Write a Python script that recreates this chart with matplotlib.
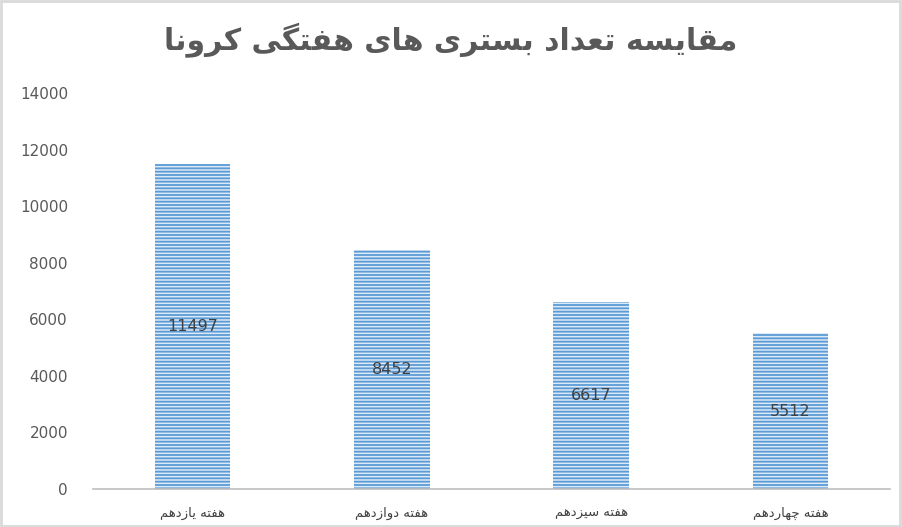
import matplotlib.pyplot as plt
from matplotlib.patches import Rectangle

# bar data
weeks = ["هفته یازدهم", "هفته دوازدهم", "هفته سیزدهم", "هفته چهاردهم"]
admissions = [11497, 8452, 6617, 5512]
title = "مقایسه تعداد بستری های هفتگی کرونا"
yticks = [0, 2000, 4000, 6000, 8000, 10000, 12000, 14000]

# matplotlib does no arabic shaping, so pick presentation forms by hand
# letter: (isolated, final, initial, medial); None => joins to the right only
FORMS = {
    "ا": (0xFE8D, 0xFE8E, None, None),
    "د": (0xFEA9, 0xFEAA, None, None),
    "ر": (0xFEAD, 0xFEAE, None, None),
    "ز": (0xFEAF, 0xFEB0, None, None),
    "و": (0xFEED, 0xFEEE, None, None),
    "ب": (0xFE8F, 0xFE90, 0xFE91, 0xFE92),
    "ت": (0xFE95, 0xFE96, 0xFE97, 0xFE98),
    "س": (0xFEB1, 0xFEB2, 0xFEB3, 0xFEB4),
    "ع": (0xFEC9, 0xFECA, 0xFECB, 0xFECC),
    "ف": (0xFED1, 0xFED2, 0xFED3, 0xFED4),
    "ق": (0xFED5, 0xFED6, 0xFED7, 0xFED8),
    "م": (0xFEE1, 0xFEE2, 0xFEE3, 0xFEE4),
    "ن": (0xFEE5, 0xFEE6, 0xFEE7, 0xFEE8),
    "ه": (0xFEE9, 0xFEEA, 0xFEEB, 0xFEEC),
    "چ": (0xFB7A, 0xFB7B, 0xFB7C, 0xFB7D),
    "ک": (0xFB8E, 0xFB8F, 0xFB90, 0xFB91),
    "گ": (0xFB92, 0xFB93, 0xFB94, 0xFB95),
    "ی": (0xFBFC, 0xFBFD, 0xFBFE, 0xFBFF),
}


def shape(text):
    out = []
    for i, ch in enumerate(text):
        if ch not in FORMS:
            out.append(ch)
            continue
        prev = text[i - 1] if i > 0 else ""
        nxt = text[i + 1] if i + 1 < len(text) else ""
        joins_prev = prev in FORMS and FORMS[prev][2] is not None
        can_next = FORMS[ch][2] is not None and nxt in FORMS
        iso, fin, ini, med = FORMS[ch]
        if joins_prev and can_next:
            code = med
        elif joins_prev:
            code = fin
        elif can_next:
            code = ini
        else:
            code = iso
        out.append(chr(code))
    return "".join(out)[::-1]


plt.rcParams["font.family"] = ["DejaVu Sans"]
plt.rcParams["hatch.linewidth"] = 1.3

fig = plt.figure(figsize=(9.02, 5.27), dpi=100)
ax = fig.add_axes([0.1031, 0.0721, 0.8836, 0.7514])

x = range(len(weeks))
# hatch takes the edge colour, so the edge is blue but zero width
ax.bar(x, admissions, width=0.38, color="#dce9f6", edgecolor="#5b9bd5",
       linewidth=0, hatch="-----", zorder=2)

for xi, v in zip(x, admissions):
    ax.text(xi, v / 2, str(v), ha="center", va="center",
            fontsize=11.5, color="#404040", zorder=3)

ax.set_xlim(-0.5, len(weeks) - 0.5)
ax.set_ylim(0, 14000)
ax.set_yticks(yticks)
ax.set_yticklabels([str(t) for t in yticks], fontsize=11, color="#595959")
ax.set_xticks(list(x))
ax.set_xticklabels([shape(w) for w in weeks], fontsize=9.5, color="#404040")
ax.tick_params(length=0, pad=18, axis="y")
ax.tick_params(length=0, pad=13, axis="x")

for s in ["top", "right", "left"]:
    ax.spines[s].set_visible(False)
ax.spines["bottom"].set_color("#bfbfbf")
ax.spines["bottom"].set_linewidth(1.2)

fig.text(0.5, 0.925, shape(title), ha="center", va="center",
         fontsize=21.5, fontweight="bold", color="#595959")

# thin grey frame round the whole chart, like the spreadsheet export
fig.patches.append(Rectangle((0.001, 0.002), 0.997, 0.996, transform=fig.transFigure,
                             fill=False, edgecolor="#d9d9d9", linewidth=2))

fig.savefig("out.png", dpi=100)
